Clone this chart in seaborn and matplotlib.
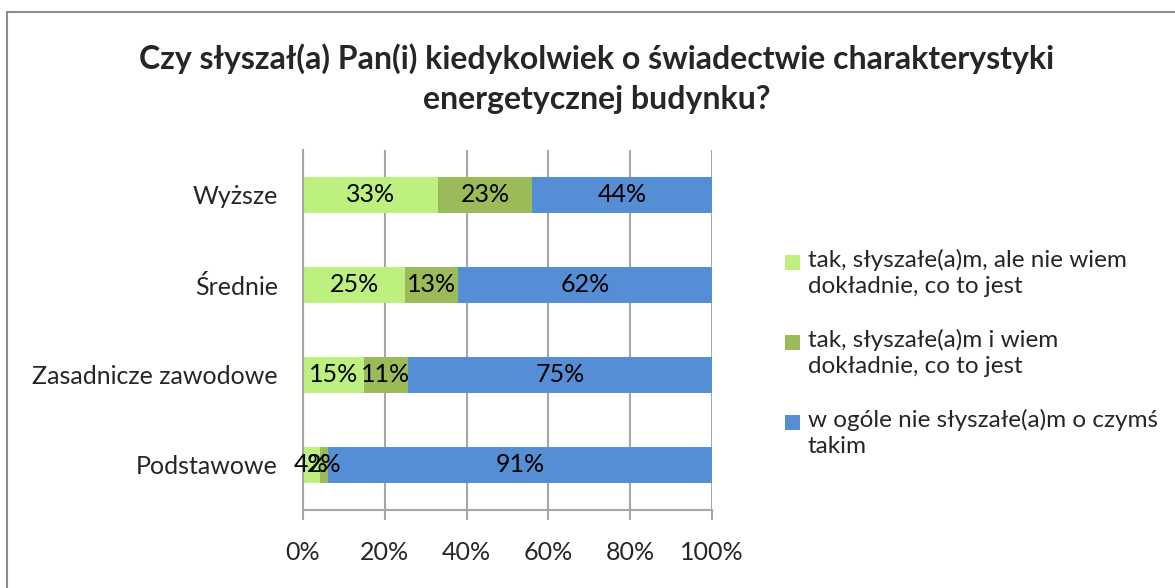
import numpy as np
import seaborn as sns
from matplotlib import pyplot as plt
from matplotlib.patches import Rectangle

categories = ["Wyższe", "Średnie", "Zasadnicze zawodowe", "Podstawowe"]
series_names = ["tak, słyszałe(a)m, ale nie wiem\ndokładnie, co to jest",
                "tak, słyszałe(a)m i wiem\ndokładnie, co to jest",
                "w ogóle nie słyszałe(a)m o czymś\ntakim"]
heard_not_know = [33, 25, 15, 4]
heard_know = [23, 13, 11, 2]
never_heard = [44, 62, 75, 91]
colors = ["#BEF080", "#9BBB59", "#558ED5"]
xticks = [0, 20, 40, 60, 80, 100]

sns.set_style("white")
plt.rcParams["font.family"] = ["Lato", "DejaVu Sans"]

raw = np.array([heard_not_know, heard_know, never_heard], dtype=float)
share = raw / raw.sum(axis=0) * 100  # 100% stacked
cum = np.cumsum(share, axis=0)

fig = plt.figure(figsize=(11.75, 5.88), dpi=100)
ax = fig.add_axes([303 / 1175, 1 - 510 / 588, 409 / 1175, 360 / 588])

# draw back to front so the stack shows
for k in [2, 1, 0]:
    sns.barplot(x=cum[k], y=categories, color=colors[k], orient="h", width=0.4,
                saturation=1, linewidth=0, ax=ax, zorder=2)

for k in range(3):
    for i in range(len(categories)):
        left = cum[k][i] - share[k][i]
        ax.text(left + share[k][i] / 2, i, f"{int(raw[k][i])}%", ha="center",
                va="center", fontsize=18, color="black", zorder=3)

ax.set_xlim(0, 100)
ax.set_ylim(3.5, -0.5)
ax.set_xticks(xticks)
ax.set_xticklabels([f"{t}%" for t in xticks])
ax.set_xlabel("")
ax.set_ylabel("")
ax.set_axisbelow(True)
ax.grid(axis="x", color="#A6A6A6", linewidth=1.5, zorder=0)
ax.set_yticks(np.arange(-0.5, 4.0, 1.0), minor=True)
ax.tick_params(axis="y", which="major", length=0, pad=18, labelsize=18)
ax.tick_params(axis="y", which="minor", length=8, color="#A6A6A6", width=1.5, direction="out")
ax.tick_params(axis="x", which="major", length=7, color="#A6A6A6", width=1.5,
               direction="out", pad=15, labelsize=18, bottom=True)
for s in ["top", "right"]:
    ax.spines[s].set_visible(False)
for s in ["left", "bottom"]:
    ax.spines[s].set_color("#A6A6A6")
    ax.spines[s].set_linewidth(1.5)

fig.text(597 / 1175, 1 - 59 / 588, "Czy słyszał(a) Pan(i) kiedykolwiek o świadectwie charakterystyki",
         ha="center", va="center", fontsize=23, fontweight="bold")
fig.text(597 / 1175, 1 - 100 / 588, "energetycznej budynku?",
         ha="center", va="center", fontsize=23, fontweight="bold")

# legend, square on first line like Excel
for k, name in enumerate(series_names):
    ytop = 263 + 80 * k
    fig.patches.append(Rectangle((785 / 1175, 1 - (ytop + 7) / 588), 15 / 1175, 15 / 588,
                                 transform=fig.transFigure, facecolor=colors[k], edgecolor="none"))
    fig.text(808 / 1175, 1 - (ytop - 14) / 588, name, ha="left", va="top",
             fontsize=17.5, linespacing=1.3)

fig.patches.append(Rectangle((7 / 1175, -0.1), 1.2, 1.1 - 12 / 588, transform=fig.transFigure,
                             fill=False, edgecolor="#8C8C8C", linewidth=1.5, clip_on=False))

fig.savefig("out.png", dpi=100)
